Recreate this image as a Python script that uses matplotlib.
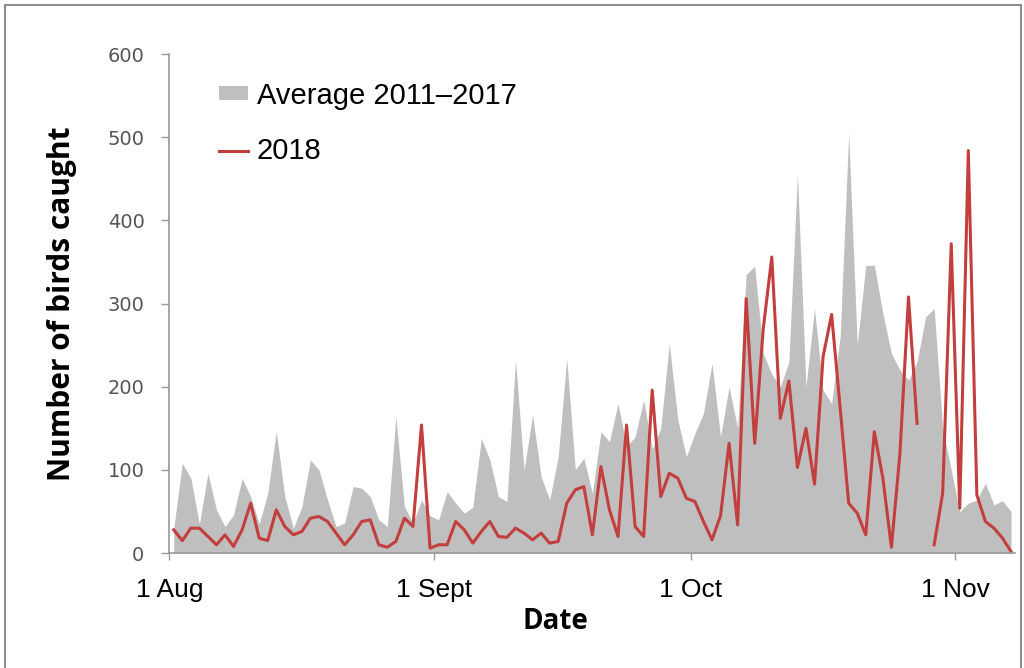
import numpy as np
import matplotlib.pyplot as plt
from matplotlib.patches import Rectangle

# daily counts, 1 Aug - 7 Nov
average_2011_2017 = [
    30, 108, 90, 35, 96, 52, 32, 46, 90, 68,
    35, 72, 146, 68, 30, 56, 112, 100, 64, 32,
    36, 80, 78, 68, 40, 32, 164, 56, 36, 64,
    45, 40, 74, 60, 48, 55, 138, 112, 68, 62,
    232, 100, 166, 92, 64, 116, 234, 100, 114, 72,
    146, 134, 180, 128, 140, 184, 125, 150, 252, 160,
    116, 144, 168, 228, 140, 200, 150, 335, 345, 240,
    215, 200, 230, 456, 200, 294, 196, 180, 260, 505,
    250, 346, 346, 288, 240, 220, 208, 230, 284, 294,
    150, 100, 50, 60, 64, 84, 58, 63, 50,
]
counts_2018 = [
    28, 15, 30, 30, 20, 10, 22, 8, 28, 60,
    18, 15, 52, 32, 22, 26, 42, 44, 38, 24,
    10, 22, 38, 40, 10, 7, 14, 42, 32, 154,
    6, 10, 10, 38, 28, 12, 26, 38, 20, 19,
    30, 24, 16, 24, 12, 14, 60, 76, 80, 22,
    104, 52, 20, 154, 32, 20, 196, 68, 96, 90,
    66, 62, 38, 16, 45, 132, 34, 306, 132, 270,
    356, 162, 207, 103, 150, 83, 236, 287, 175, 60,
    48, 22, 146, 90, 7, 120, 308, 156, np.nan, 10,
    72, 372, 54, 484, 70, 38, 30, 18, 2,
]
month_starts = [0, 31, 61, 92]
month_labels = ["1 Aug", "1 Sept", "1 Oct", "1 Nov"]
y_ticks = [0, 100, 200, 300, 400, 500, 600]

grey = "#bfbfbf"
red = "#c23f3d"
axis_grey = "#9a9a9a"

# each day sits in the middle of its slot
days = np.arange(len(average_2011_2017)) + 0.5

fig = plt.figure(figsize=(10.24, 6.68), dpi=100)
ax = fig.add_axes([0.1655, 0.172, 0.826, 0.747])

ax.fill_between(days, 0, average_2011_2017, color=grey, lw=0,
                label="Average 2011\u20132017")
ax.plot(days, counts_2018, color=red, lw=2.2, label="2018")

ax.set_xlim(0, 99)
ax.set_ylim(0, 600)
ax.set_xticks(month_starts)
ax.set_xticklabels(month_labels, fontsize=19, family="Liberation Sans")
ax.set_yticks(y_ticks)
ax.set_yticklabels([str(v) for v in y_ticks], fontsize=14,
                   color="#555555", family="DejaVu Sans")
ax.tick_params(axis="x", length=5, width=1, color=axis_grey, pad=13)
ax.tick_params(axis="y", length=6, width=1, color=axis_grey, pad=12)

for side in ["top", "right"]:
    ax.spines[side].set_visible(False)
for side in ["left", "bottom"]:
    ax.spines[side].set_color(axis_grey)
    ax.spines[side].set_linewidth(1.2)

ax.set_ylabel("Number of birds caught", fontsize=21.5, fontweight="bold",
              family="Open Sans", labelpad=22)
ax.set_xlabel("Date", fontsize=20, fontweight="bold", family="Open Sans")
ax.xaxis.set_label_coords(0.456, -0.108)

ax.legend(loc="upper left", bbox_to_anchor=(0.0585, 0.945), frameon=False,
          prop={"family": "Liberation Sans", "size": 21},
          borderpad=0, borderaxespad=0,
          handlelength=1.0, handleheight=0.33, handletextpad=0.3,
          labelspacing=0.95)

# thin frame around the whole figure
fig.patches.append(Rectangle((0.005, -0.01), 0.992, 1.002, transform=fig.transFigure,
                             fill=False, edgecolor="#777777", lw=1.2))

fig.savefig("out.png", dpi=100)
